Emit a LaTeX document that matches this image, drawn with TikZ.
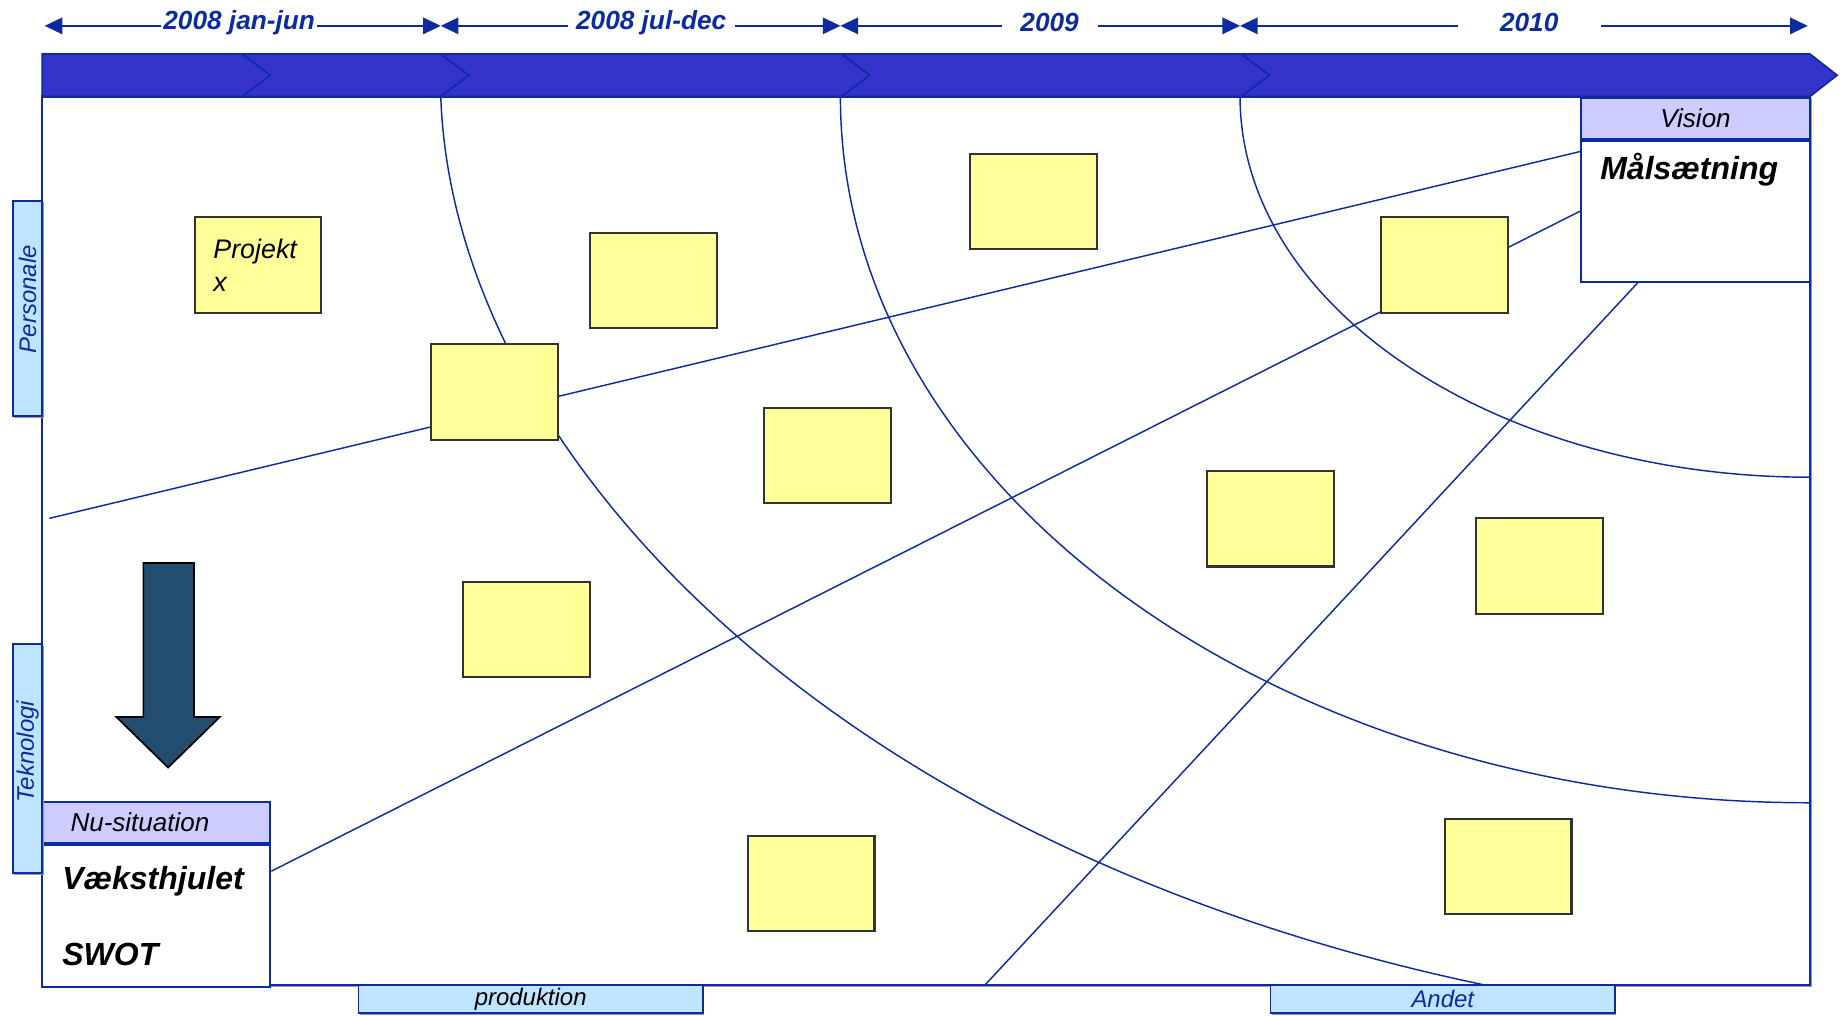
\documentclass[tikz,border=0pt]{standalone}
\usepackage{fontspec}
\setmainfont{Liberation Sans}
\usetikzlibrary{arrows.meta, positioning, calc, shadows}
\definecolor{RoadBlue}{HTML}{0B2B9F}
\definecolor{BandBlue}{HTML}{3333CC}
\definecolor{TabBlue}{HTML}{BFE4FF}
\definecolor{HeadLilac}{HTML}{CCCCFF}
\definecolor{NoteYellow}{HTML}{FFFF99}
\definecolor{ArrowSteel}{HTML}{234D6E}
\definecolor{ShadowGray}{HTML}{9A9A9A}
\tikzset{
  notebox/.style={draw=black!80, line width=1pt, fill=NoteYellow, minimum width=2.16cm, minimum height=1.62cm, inner sep=0pt},
  headbox/.style={draw=RoadBlue, line width=1pt, fill=HeadLilac, minimum height=0.7cm, inner sep=0pt, font=\fontsize{12.6}{15}\selectfont\itshape},
  bodybox/.style={draw=RoadBlue, line width=1pt, fill=white, inner sep=0pt},
  tabbox/.style={draw=RoadBlue, line width=0.8pt, fill=TabBlue, inner sep=0pt, font=\fontsize{11.6}{14}\selectfont\itshape, text=RoadBlue, drop shadow={shadow xshift=0.7pt, shadow yshift=-0.7pt, fill=ShadowGray, opacity=1}},
  bigtext/.style={font=\fontsize{15.5}{37}\selectfont\bfseries\itshape},
  timelabel/.style={fill=white, inner ysep=1pt, yshift=0.06cm, font=\fontsize{12.7}{15}\selectfont\bfseries\itshape, text=RoadBlue},
  timearrow/.style={<->, >={Triangle[length=3mm, width=2.8mm]}, line width=0.8pt, draw=RoadBlue},
  guideline/.style={draw=RoadBlue, line width=0.7pt}
}

\begin{document}
\begin{tikzpicture}[x=0.02cm, y=-0.02cm]
\useasboundingbox (0,0) rectangle (1568,864);
% main frame
\draw[draw=RoadBlue, line width=1.1pt, fill=white, drop shadow={shadow xshift=0.8pt, shadow yshift=-0.8pt, fill=ShadowGray, opacity=1}] (36,82) rectangle (1540,838);

% vision and current state
\node[headbox, minimum width=3.9cm] (vision) at (1442.5,100.5) {Vision\hspace{0.28cm}};
\node[bodybox, minimum width=3.9cm, minimum height=2.4cm, below=0pt of vision,
  label={[bigtext, anchor=north west, inner sep=0pt, xshift=0.34cm, yshift=-0.23cm]north west:Målsætning}] (maal) {};
\node[headbox, minimum width=3.88cm, text width=2.92cm, inner xsep=0.48cm, align=left] (nuhead) at (133,699.5) {Nu-situation};
\node[bodybox, bigtext, minimum width=3.88cm, minimum height=2.42cm, text width=3.2cm, inner xsep=0.34cm, align=left, below=0pt of nuhead] (nubody) {Væksthjulet\\SWOT\\[-0.25cm]};

% straight lines
\coordinate (aStart) at (42,441);
\coordinate (aEnd) at ($(maal.north west)!0.083!(maal.south west)$);
\coordinate (bStart) at ($(nubody.north east)!0.19!(nubody.south east)$);
\coordinate (cStart) at (838,838);
\coordinate (cEnd) at ($(maal.south west)!0.25!(maal.south east)$);
\draw[guideline] (aStart) -- (aEnd);
\draw[guideline] (bStart) -- (maal.west);
\draw[guideline] (cStart) -- (cEnd);

% curves
\coordinate (dTop) at (375,82);
\coordinate (dEnd) at (1263,838);
\coordinate (eTop) at (715,82);
\coordinate (eEnd) at (1540,683);
\coordinate (fTop) at (1055,82);
\coordinate (fEnd) at (1540,406);
\draw[guideline] (dTop) .. controls +(10,298) and +(-563,-118) .. (dEnd);
\draw[guideline] (eTop) .. controls +(0,332) and +(-456,0) .. (eEnd);
\draw[guideline] (fTop) .. controls +(0,179) and +(-268,0) .. (fEnd);

% notes
\node[notebox, text width=1.52cm, inner xsep=0.32cm, align=left, font=\fontsize{13}{16}\selectfont\itshape] (projekt) at (219.5,225.5) {Projekt\\x\\[-0.16cm]};
\foreach \nx/\ny/\nm in {556/238.5/note2, 879/171.5/note3, 1229/225.5/note4, 421/333.5/note5, 704/387.5/note6, 1081/441.5/note7, 1310/481.5/note8, 448/535.5/note9, 690/751.5/note10, 1283/737.5/note11}
  \node[notebox] (\nm) at (\nx,\ny) {};

% time band
\draw[draw=RoadBlue, line width=0.8pt, fill=BandBlue] (36,46) -- (1540,46) -- (1563,64) -- (1540,82) -- (36,82) -- cycle;
\foreach \cx in {206,375,716,1056}
  \draw[draw=RoadBlue, line width=0.8pt] (\cx,46) -- ++(24,18) -- ++(-24,18);

% tabs
\node[tabbox, minimum width=0.5cm, minimum height=3.66cm] (personale) at (23.5,262.5) {\rotatebox{90}{\hspace{0.32cm}Personale}};
\node[tabbox, minimum width=0.5cm, minimum height=3.9cm] (teknologi) at (23.5,645.5) {\rotatebox{90}{\hspace{0.24cm}Teknologi}};
\node[tabbox, minimum width=5.86cm, minimum height=0.48cm, text=black] (produktion) at (451.5,850) {\raisebox{-0.06cm}{produktion}\hspace{0.3cm}};
\node[tabbox, minimum width=5.86cm, minimum height=0.48cm] (andet) at (1227.5,850) {\raisebox{-0.04cm}{Andet}\hspace{0.2cm}};

% time arrows
\coordinate (t0) at (38,22);
\coordinate (t1) at (375,22);
\coordinate (t2) at (715,22);
\coordinate (t3) at (1055,22);
\coordinate (t4) at (1538,22);
\draw[timearrow] (t0) -- (t1);
\draw[timearrow] (t1) -- (t2);
\draw[timearrow] (t2) -- (t3);
\draw[timearrow] (t3) -- (t4);
\node[timelabel, inner xsep=1pt] (lab1) at (203.5,22) {2008 jan-jun};
\node[timelabel, inner xsep=4pt] (lab2) at (554,22) {2008 jul-dec};
\node[timelabel, inner xsep=0.32cm] (lab3) at (893,22) {2009};
\node[timelabel, inner xsep=0.72cm] (lab4) at (1301,22) {2010};

% down arrow
\draw[draw=black, line width=0.8pt, fill=ArrowSteel] (122,479) -- (165,479) -- (165,610) -- (187,610) -- (143,653) -- (99,610) -- (122,610) -- cycle;
\end{tikzpicture}
\end{document}
